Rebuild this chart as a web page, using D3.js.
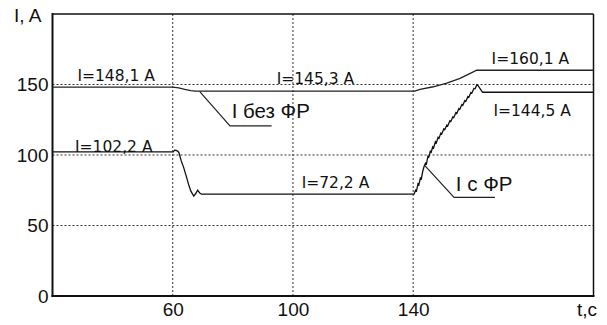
<!DOCTYPE html>
<html>
<head>
<meta charset="utf-8">
<script src="https://cdn.jsdelivr.net/npm/d3@7"></script>
<style>
  body { margin: 0; background: #fff; }
  text { fill: #111; }
</style>
</head>
<body>
<svg id="drawing_region"></svg>
<script>
// ---- data ----
const xTicks = [60, 100, 140];
const yTicks = [0, 50, 100, 150];

// I без ФР
const tNoFR = [20, 60, 62, 64, 66, 67.5, 140.5, 142.3, 146.7, 151.2, 155.6, 159.5, 161.1, 200];
const iNoFR = [148.1, 148.1, 147.6, 146.6, 145.7, 145.3, 145.3, 146.6, 148.4, 150.9, 154.4, 158.4, 160.1, 160.1];

// I с ФР
const tFR = [20, 60.2, 60.6, 61.2, 61.7, 62.1, 62.8, 63.6, 64.5, 65.3, 66.0, 67.0, 67.6, 68.3, 69.0, 69.6,
    140.3, 140.8, 141.1, 141.6, 141.9, 142.4, 142.7, 143.2, 143.6, 144.1, 144.4, 144.9, 145.2, 145.7, 146.0,
    146.5, 146.8, 147.4, 147.7, 148.3, 148.6, 149.2, 149.5, 150.2, 150.5, 151.2, 151.5, 152.2, 152.5, 153.2,
    153.5, 154.2, 154.5, 155.2, 155.5, 156.2, 156.5, 157.2, 157.5, 158.2, 158.5, 159.2, 159.5, 160.2, 160.6,
    161.2, 161.6, 162.2, 163.1, 200];
const iFR = [102.2, 102.2, 103.4, 103.2, 102.6, 101.5, 96.0, 91.4, 85.0, 79.0, 74.5, 70.9, 72.5, 75.0, 73.0, 72.2,
    72.2, 75.0, 74.4, 79.6, 78.9, 83.6, 83.0, 88.6, 91.7, 94.2, 93.6, 99.1, 98.4, 102.6, 102.0,
    105.8, 105.0, 109.4, 108.6, 112.5, 111.8, 115.5, 114.9, 118.5, 117.9, 121.2, 120.6, 124.2, 123.6, 127.1,
    126.5, 130.0, 129.4, 132.9, 132.3, 135.8, 135.2, 138.6, 138.0, 141.4, 140.8, 144.3, 143.8, 147.2, 147.0,
    149.8, 149.2, 147.3, 144.5, 144.5];

// value labels
const valueLabels = ['I=148,1 A', 'I=145,3 A', 'I=160,1 A', 'I=144,5 A', 'I=102,2 A', 'I=72,2 A'];
const valueLabelAt = [[28.3, 152.5], [94.6, 150.1], [166.1, 164.5], [166.7, 127.7], [27.5, 101.9], [102.9, 76.4]];

// series callouts: text, leader start on curve, elbow, underline end
const callouts = [
    { text: 'I без ФР', from: [69.0, 144.9], elbow: [79.05, 120.6], end: 92.9, at: [79.6, 126.0] },
    { text: 'I с ФР', from: [143.9, 92.4], elbow: [153.6, 70.0], end: 167.2, at: [154.2, 74.7] }
];

const W = 607, H = 325;
const svg = d3.select('#drawing_region').attr('width', W).attr('height', H);

const x = d3.scaleLinear().domain([20, 200]).range([52.5, 593.5]);
const y = d3.scaleLinear().domain([0, 200]).range([296, 14]);

// grid
const grid = svg.append('g')
    .attr('stroke', '#333').attr('stroke-width', 1).attr('stroke-dasharray', '2,2');
grid.selectAll('.hg').data(yTicks.filter(d => d > 0)).enter().append('line')
    .attr('x1', x(20)).attr('x2', x(200))
    .attr('y1', d => y(d)).attr('y2', d => y(d));
grid.selectAll('.vg').data(xTicks).enter().append('line')
    .attr('x1', d => x(d)).attr('x2', d => x(d))
    .attr('y1', y(0)).attr('y2', y(200));

// axes (labels only)
const axisFont = '"Liberation Sans", Arial, sans-serif';
const xAxis = svg.append('g').attr('transform', `translate(0, ${y(0)})`)
    .call(d3.axisBottom(x).tickValues(xTicks).tickSize(0).tickPadding(6.5).tickFormat(d3.format('d')));
const yAxis = svg.append('g').attr('transform', `translate(${x(20)}, 0)`)
    .call(d3.axisLeft(y).tickValues(yTicks).tickSize(0).tickPadding(4).tickFormat(d3.format('d')));
[xAxis, yAxis].forEach(a => {
    a.select('.domain').remove();
    a.selectAll('text').attr('font-family', axisFont).attr('font-size', 19).attr('fill', '#111');
});

// frame
svg.append('line').attr('x1', x(20)).attr('x2', x(200)).attr('y1', y(200)).attr('y2', y(200))
    .attr('stroke', '#111').attr('stroke-width', 1.5);
svg.append('line').attr('x1', x(200)).attr('x2', x(200)).attr('y1', y(200)).attr('y2', y(0))
    .attr('stroke', '#111').attr('stroke-width', 1.5);
svg.append('line').attr('x1', x(20)).attr('x2', x(20)).attr('y1', y(200) - 1).attr('y2', y(0) + 1)
    .attr('stroke', '#111').attr('stroke-width', 2);
svg.append('line').attr('x1', x(20) - 1).attr('x2', x(200) + 1).attr('y1', y(0)).attr('y2', y(0))
    .attr('stroke', '#111').attr('stroke-width', 2);

// axis titles
svg.append('text').attr('x', 14).attr('y', 21.5).attr('font-family', axisFont).attr('font-size', 19).text('I, A');
svg.append('text').attr('x', 597).attr('y', 315.5).attr('text-anchor', 'end')
    .attr('font-family', axisFont).attr('font-size', 19).text('t,c');

// curves
const line = d3.line().x(d => x(d[0])).y(d => y(d[1]));
svg.append('path').datum(d3.zip(tNoFR, iNoFR))
    .attr('d', line).attr('fill', 'none').attr('stroke', '#222').attr('stroke-width', 1.3);
svg.append('path').datum(d3.zip(tFR, iFR))
    .attr('d', line).attr('fill', 'none').attr('stroke', '#111').attr('stroke-width', 1.3);

// value labels
svg.selectAll('.vl').data(d3.zip(valueLabels, valueLabelAt)).enter().append('text')
    .attr('x', d => x(d[1][0])).attr('y', d => y(d[1][1]))
    .attr('font-family', '"DejaVu Sans", Verdana, sans-serif').attr('font-size', 15.5)
    .text(d => d[0]);

// callouts
const co = svg.selectAll('.co').data(callouts).enter().append('g');
co.append('polyline')
    .attr('points', d => [[x(d.from[0]), y(d.from[1])], [x(d.elbow[0]), y(d.elbow[1])], [x(d.end), y(d.elbow[1])]].join(' '))
    .attr('fill', 'none').attr('stroke', '#222').attr('stroke-width', 1.2);
co.append('text')
    .attr('x', d => x(d.at[0])).attr('y', d => y(d.at[1]))
    .attr('font-family', axisFont).attr('font-size', 20.5)
    .text(d => d.text);
</script>
</body>
</html>
